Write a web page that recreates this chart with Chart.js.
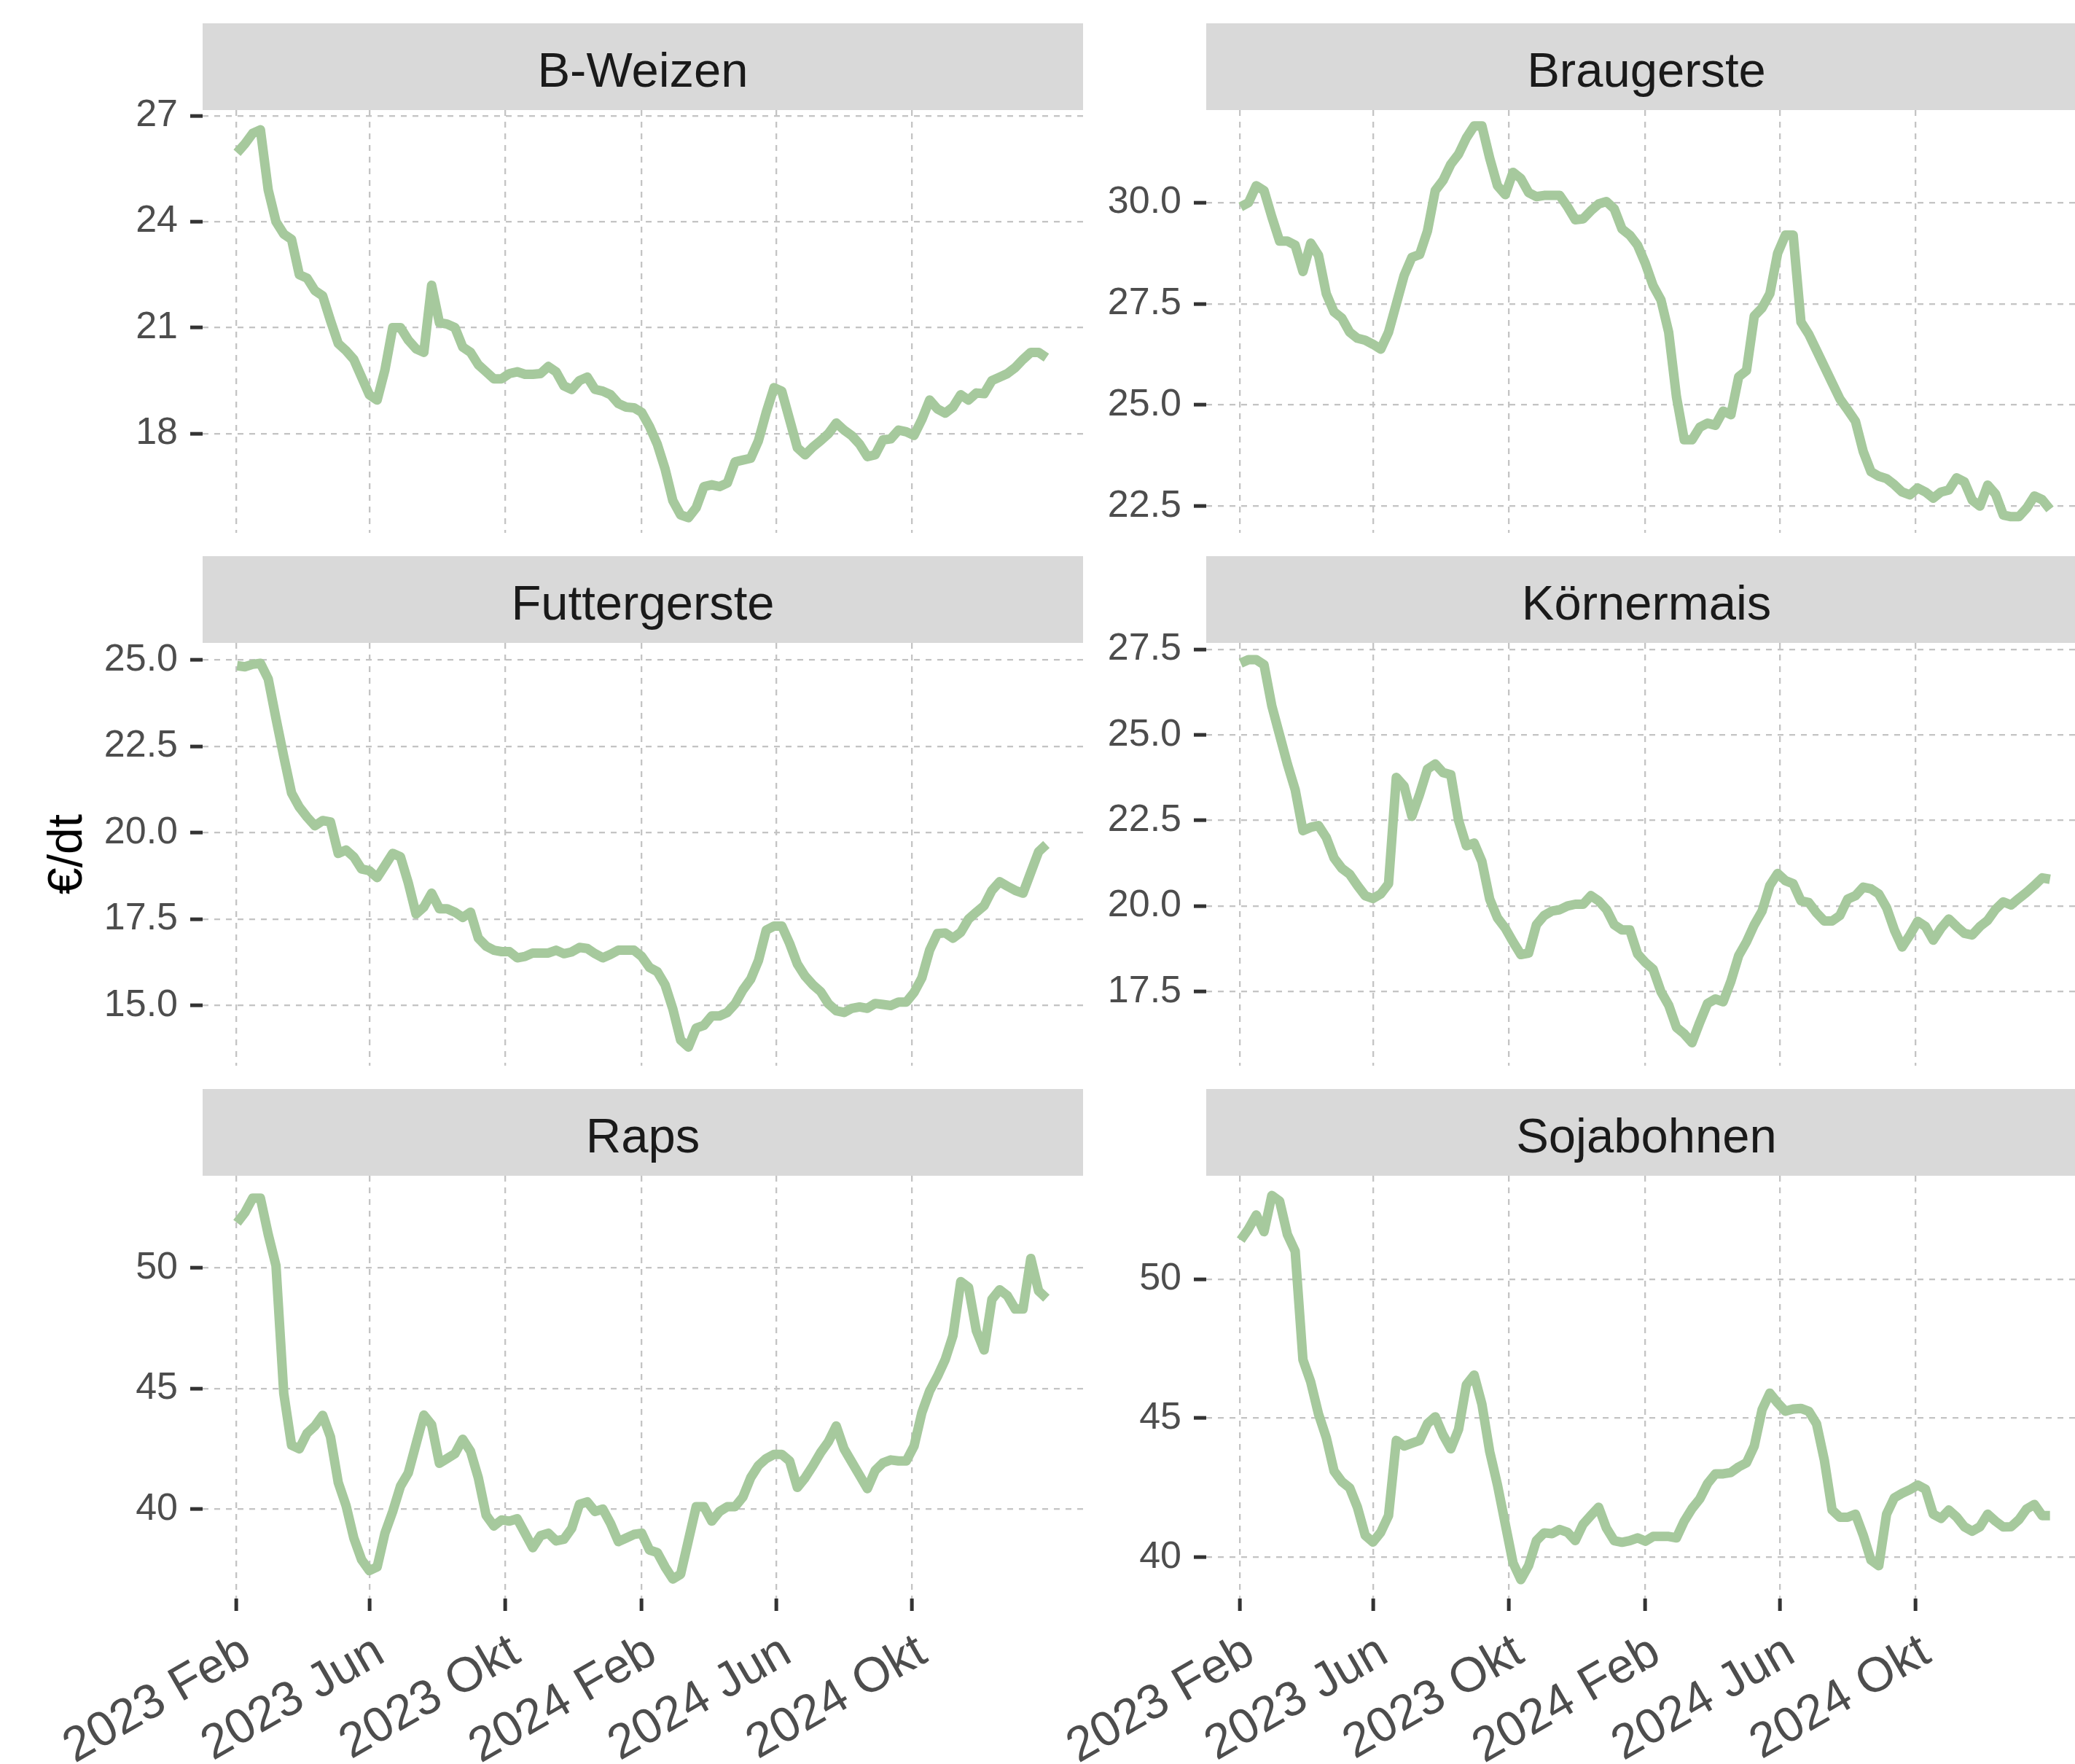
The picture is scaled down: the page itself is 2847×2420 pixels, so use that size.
<!DOCTYPE html>
<html lang="de">
<head>
<meta charset="utf-8">
<title>Erzeugerpreise Getreide und Ölsaaten</title>
<script src="https://cdn.jsdelivr.net/npm/chart.js@4.4.1/dist/chart.umd.min.js"></script>
<style>
    html, body { margin: 0; padding: 0; background: #ffffff; }
    body {
        position: relative;
        width: 2847px;
        height: 2420px;
        overflow: hidden;
        font-family: "Liberation Sans", Arial, sans-serif;
    }
    canvas.panel { position: absolute; }
    .strip {
        position: absolute;
        box-sizing: border-box;
        padding-top: 8px;
        display: flex;
        align-items: center;
        justify-content: center;
        background: #d9d9d9;
        color: #1a1a1a;
        font-size: 67px;
        white-space: nowrap;
    }
    #y-title {
        position: absolute;
        left: 89px;
        top: 1172px;
        transform: translate(-50%, -50%) rotate(-90deg);
        font-size: 66px;
        color: #000000;
        white-space: nowrap;
    }
</style>
</head>
<body>
<div id="figure"></div>
<div id="y-title">€/dt</div>
<script>
// Weekly prices in €/dt, first week 2023-02-02
const firstWeek = '2023-02-02';

const bWeizen = [
    25.95, 26.2, 26.5, 26.6, 24.9, 24.0, 23.65, 23.5, 22.5, 22.4,
    22.05, 21.9, 21.2, 20.55, 20.35, 20.1, 19.6, 19.1, 18.95, 19.8,
    21.0, 21.0, 20.65, 20.4, 20.3, 22.2, 21.14, 21.1, 21.0, 20.45,
    20.3, 19.95, 19.75, 19.55, 19.55, 19.7, 19.75, 19.68, 19.68, 19.7,
    19.9, 19.75, 19.35, 19.25, 19.5, 19.6, 19.25, 19.2, 19.1, 18.85,
    18.75, 18.73, 18.6, 18.2, 17.7, 17.0, 16.1, 15.7, 15.62, 15.9,
    16.5, 16.55, 16.5, 16.6, 17.2, 17.25, 17.3, 17.8, 18.6, 19.3,
    19.2, 18.4, 17.6, 17.4, 17.62, 17.8, 18.0, 18.3, 18.1, 17.94,
    17.7, 17.35, 17.4, 17.82, 17.85, 18.1, 18.05, 17.95, 18.4, 18.95,
    18.7, 18.58, 18.75, 19.1, 18.95, 19.15, 19.13, 19.5, 19.6, 19.7,
    19.87, 20.1, 20.3, 20.3, 20.15
];

const braugerste = [
    29.9, 30.0, 30.42, 30.3, 29.65, 29.05, 29.05, 28.95, 28.3, 29.0,
    28.7, 27.75, 27.3, 27.15, 26.8, 26.65, 26.6, 26.5, 26.38, 26.8,
    27.5, 28.2, 28.65, 28.72, 29.3, 30.3, 30.55, 30.95, 31.2, 31.6,
    31.9, 31.9, 31.1, 30.42, 30.2, 30.75, 30.6, 30.25, 30.15, 30.18,
    30.18, 30.18, 29.9, 29.58, 29.6, 29.8, 29.97, 30.03, 29.85, 29.35,
    29.2, 28.95, 28.5, 27.95, 27.6, 26.8, 25.2, 24.14, 24.14, 24.45,
    24.55, 24.5, 24.85, 24.76, 25.7, 25.85, 27.2, 27.4, 27.75, 28.75,
    29.2, 29.2, 27.05, 26.75, 26.35, 25.95, 25.55, 25.15, 24.88, 24.6,
    23.85, 23.35, 23.24, 23.18, 23.03, 22.85, 22.78, 22.95, 22.85, 22.7,
    22.85, 22.9, 23.2, 23.1, 22.65, 22.5, 23.02, 22.8, 22.28, 22.24,
    22.24, 22.45, 22.75, 22.66, 22.42
];

const futtergerste = [
    24.83, 24.8, 24.87, 24.9, 24.45, 23.3, 22.2, 21.15, 20.74, 20.45,
    20.2, 20.35, 20.31, 19.4, 19.5, 19.3, 18.95, 18.9, 18.7, 19.05,
    19.4, 19.3, 18.55, 17.65, 17.85, 18.25, 17.8, 17.8, 17.7, 17.55,
    17.7, 16.95, 16.72, 16.6, 16.56, 16.56, 16.38, 16.42, 16.52, 16.52,
    16.52, 16.6, 16.5, 16.55, 16.68, 16.65, 16.5, 16.38, 16.48, 16.6,
    16.6, 16.6, 16.42, 16.1, 15.98, 15.6, 14.9, 14.0, 13.8, 14.35,
    14.43, 14.7, 14.7, 14.8, 15.05, 15.45, 15.76, 16.3, 17.18, 17.3,
    17.3, 16.8, 16.2, 15.85, 15.6, 15.4, 15.05, 14.85, 14.8, 14.92,
    14.96, 14.92, 15.06, 15.03, 15.0, 15.1, 15.1, 15.38, 15.8, 16.6,
    17.08, 17.1, 16.95, 17.12, 17.5, 17.7, 17.89, 18.33, 18.58, 18.45,
    18.33, 18.25, 18.85, 19.45, 19.66
];

const koernermais = [
    27.1, 27.2, 27.2, 27.05, 25.85, 25.0, 24.15, 23.4, 22.2, 22.3,
    22.35, 22.0, 21.4, 21.1, 20.93, 20.6, 20.3, 20.22, 20.35, 20.65,
    23.76, 23.5, 22.62, 23.27, 24.0, 24.15, 23.9, 23.84, 22.5, 21.76,
    21.84, 21.3, 20.2, 19.65, 19.35, 18.95, 18.58, 18.62, 19.45, 19.72,
    19.85, 19.89, 20.0, 20.05, 20.05, 20.3, 20.15, 19.9, 19.45, 19.3,
    19.3, 18.6, 18.35, 18.15, 17.5, 17.1, 16.45, 16.26, 16.0, 16.6,
    17.15, 17.28, 17.2, 17.8, 18.55, 18.95, 19.45, 19.85, 20.6, 20.95,
    20.74, 20.65, 20.15, 20.1, 19.8, 19.56, 19.56, 19.72, 20.2, 20.3,
    20.55, 20.5, 20.35, 19.95, 19.3, 18.8, 19.15, 19.55, 19.4, 19.0,
    19.35, 19.62, 19.4, 19.2, 19.15, 19.4, 19.58, 19.9, 20.12, 20.03,
    20.22, 20.4, 20.6, 20.82, 20.78
];

const raps = [
    51.88, 52.3, 52.9, 52.9, 51.4, 50.1, 44.8, 42.65, 42.5, 43.15,
    43.45, 43.89, 43.0, 41.1, 40.15, 38.8, 37.9, 37.45, 37.6, 39.0,
    39.9, 40.95, 41.5, 42.7, 43.9, 43.5, 41.9, 42.1, 42.3, 42.9,
    42.4, 41.3, 39.75, 39.3, 39.55, 39.5, 39.6, 39.0, 38.4, 38.9,
    39.0, 38.68, 38.75, 39.2, 40.2, 40.3, 39.9, 40.0, 39.4, 38.65,
    38.8, 38.95, 39.0, 38.3, 38.2, 37.6, 37.1, 37.3, 38.7, 40.1,
    40.1, 39.5, 39.9, 40.1, 40.1, 40.5, 41.3, 41.81, 42.1, 42.27,
    42.27, 42.0, 40.9, 41.3, 41.8, 42.35, 42.8, 43.45, 42.5, 41.95,
    41.4, 40.85, 41.6, 41.92, 42.04, 42.0, 42.0, 42.62, 44.0, 44.9,
    45.5, 46.2, 47.2, 49.44, 49.2, 47.4, 46.6, 48.7, 49.1, 48.85,
    48.3, 48.3, 50.4, 49.05, 48.75
];

const sojabohnen = [
    51.4, 51.8, 52.3, 51.7, 53.0, 52.8, 51.6, 51.0, 47.1, 46.3,
    45.15, 44.3, 43.1, 42.72, 42.5, 41.8, 40.79, 40.55, 40.9, 41.5,
    44.2, 44.0, 44.1, 44.2, 44.8, 45.05, 44.4, 43.9, 44.6, 46.2,
    46.55, 45.5, 43.8, 42.6, 41.2, 39.8, 39.2, 39.7, 40.6, 40.88,
    40.85, 41.0, 40.9, 40.6, 41.19, 41.5, 41.8, 41.05, 40.6, 40.54,
    40.6, 40.7, 40.58, 40.75, 40.75, 40.75, 40.7, 41.3, 41.75, 42.1,
    42.65, 43.0, 43.0, 43.05, 43.25, 43.4, 44.0, 45.3, 45.9, 45.55,
    45.25, 45.33, 45.35, 45.25, 44.8, 43.5, 41.7, 41.44, 41.44, 41.55,
    40.8, 39.9, 39.7, 41.55, 42.14, 42.3, 42.43, 42.6, 42.45, 41.55,
    41.4, 41.7, 41.45, 41.1, 40.94, 41.1, 41.55, 41.3, 41.09, 41.1,
    41.35, 41.74, 41.9, 41.5, 41.5
];

// Shared date axis
const xTickDates = ['2023-02-01', '2023-06-01', '2023-10-01', '2024-02-01', '2024-06-01', '2024-10-01'];
const xTickLabels = ['2023 Feb', '2023 Jun', '2023 Okt', '2024 Feb', '2024 Jun', '2024 Okt'];
const xLimits = ['2023-01-02', '2025-03-04'];

// Free y scales per panel
const yTicksBWeizen = [18, 21, 24, 27];
const yTicksBraugerste = [22.5, 25, 27.5, 30];
const yTicksFuttergerste = [15, 17.5, 20, 22.5, 25];
const yTicksKoernermais = [17.5, 20, 22.5, 25, 27.5];
const yTicksRaps = [40, 45, 50];
const yTicksSoja = [40, 45, 50];

const yLimitsBWeizen = [15.19, 27.16];
const yLimitsBraugerste = [21.84, 32.29];
const yLimitsFuttergerste = [13.26, 25.49];
const yLimitsKoernermais = [15.33, 27.69];
const yLimitsRaps = [36.29, 53.83];
const yLimitsSoja = [38.52, 53.71];

// Layout of the facet grid (pixels)
const COLUMN_LEFT = [278, 1655];
const ROW_STRIP_TOP = [32, 763, 1494];
const PANEL_W = 1208;
const PANEL_H = 580;
const STRIP_H = 119;
const Y_AXIS_W = 260;
const EDGE_PAD = 45;
const X_AXIS_H = 227;

const LINE_COLOR = '#a6c99d';
const GRID_COLOR = '#c4c4c4';
const TICK_COLOR = '#333333';
const TEXT_COLOR = '#4d4d4d';
const FONT_FAMILY = '"Liberation Sans", Arial, sans-serif';

const EPOCH = Date.parse('2023-02-01T00:00:00Z');

/**
 * Convert an ISO date to days since 2023-02-01
 */
function toDay(iso) {
    return (Date.parse(iso + 'T00:00:00Z') - EPOCH) / 86400000;
}

const panels = [
    { title: 'B-Weizen', values: bWeizen, ticks: yTicksBWeizen, limits: yLimitsBWeizen, decimals: 0 },
    { title: 'Braugerste', values: braugerste, ticks: yTicksBraugerste, limits: yLimitsBraugerste, decimals: 1 },
    { title: 'Futtergerste', values: futtergerste, ticks: yTicksFuttergerste, limits: yLimitsFuttergerste, decimals: 1 },
    { title: 'Körnermais', values: koernermais, ticks: yTicksKoernermais, limits: yLimitsKoernermais, decimals: 1 },
    { title: 'Raps', values: raps, ticks: yTicksRaps, limits: yLimitsRaps, decimals: 0 },
    { title: 'Sojabohnen', values: sojabohnen, ticks: yTicksSoja, limits: yLimitsSoja, decimals: 0 }
];

/**
 * Draw one facet: grey strip on top, line chart below
 */
function createPanel(panel, index) {
    const figure = document.getElementById('figure');
    const col = index % 2;
    const row = Math.floor(index / 2);
    const isBottom = row === ROW_STRIP_TOP.length - 1;

    const panelLeft = COLUMN_LEFT[col];
    const panelTop = ROW_STRIP_TOP[row] + STRIP_H;

    // Canvas covers y labels on the left and x labels below (bottom row only)
    const canvas = document.createElement('canvas');
    canvas.className = 'panel';
    const width = Y_AXIS_W + PANEL_W;
    const height = EDGE_PAD + PANEL_H + (isBottom ? X_AXIS_H : EDGE_PAD);
    canvas.width = width;
    canvas.height = height;
    canvas.style.width = width + 'px';
    canvas.style.height = height + 'px';
    canvas.style.left = (panelLeft - Y_AXIS_W) + 'px';
    canvas.style.top = (panelTop - EDGE_PAD) + 'px';
    figure.appendChild(canvas);

    const start = toDay(firstWeek);
    const points = panel.values.map((v, i) => ({ x: start + 7 * i, y: v }));
    const xTicks = xTickDates.map(toDay);

    new Chart(canvas, {
        type: 'line',
        data: {
            datasets: [{
                data: points,
                borderColor: LINE_COLOR,
                borderWidth: 13,
                borderJoinStyle: 'round',
                borderCapStyle: 'butt',
                pointRadius: 0,
                tension: 0,
                fill: false
            }]
        },
        options: {
            responsive: false,
            animation: false,
            devicePixelRatio: 1,
            layout: {
                padding: { top: EDGE_PAD, bottom: isBottom ? 0 : EDGE_PAD, left: 0, right: 0 }
            },
            plugins: {
                legend: { display: false },
                tooltip: { enabled: false }
            },
            scales: {
                x: {
                    type: 'linear',
                    min: toDay(xLimits[0]),
                    max: toDay(xLimits[1]),
                    afterBuildTicks: scale => {
                        scale.ticks = xTicks.map(v => ({ value: v }));
                    },
                    afterFit: scale => {
                        scale.height = isBottom ? X_AXIS_H : 0;
                        scale.paddingLeft = 0;
                        scale.paddingRight = 0;
                    },
                    ticks: {
                        display: isBottom,
                        autoSkip: false,
                        minRotation: 30,
                        maxRotation: 30,
                        padding: 17,
                        labelOffset: 15,
                        color: TEXT_COLOR,
                        font: { family: FONT_FAMILY, size: 67 },
                        callback: (value, i) => xTickLabels[i]
                    },
                    grid: {
                        color: GRID_COLOR,
                        lineWidth: 2.3,
                        drawTicks: isBottom,
                        tickLength: 17,
                        tickWidth: 5,
                        tickColor: TICK_COLOR,
                        tickBorderDash: []
                    },
                    border: { display: false, dash: [8, 8] }
                },
                y: {
                    type: 'linear',
                    min: panel.limits[0],
                    max: panel.limits[1],
                    afterBuildTicks: scale => {
                        scale.ticks = panel.ticks.map(v => ({ value: v }));
                    },
                    afterFit: scale => {
                        scale.width = Y_AXIS_W;
                        scale.paddingTop = 0;
                        scale.paddingBottom = 0;
                    },
                    ticks: {
                        padding: 17,
                        color: TEXT_COLOR,
                        font: { family: FONT_FAMILY, size: 52 },
                        callback: value => Number(value).toFixed(panel.decimals)
                    },
                    grid: {
                        color: GRID_COLOR,
                        lineWidth: 2.3,
                        tickLength: 17,
                        tickWidth: 5,
                        tickColor: TICK_COLOR,
                        tickBorderDash: []
                    },
                    border: { display: false, dash: [8, 8] }
                }
            }
        }
    });

    // Facet strip
    const strip = document.createElement('div');
    strip.className = 'strip';
    strip.textContent = panel.title;
    strip.style.left = panelLeft + 'px';
    strip.style.top = ROW_STRIP_TOP[row] + 'px';
    strip.style.width = PANEL_W + 'px';
    strip.style.height = STRIP_H + 'px';
    figure.appendChild(strip);
}

Chart.defaults.font.family = FONT_FAMILY;
panels.forEach(createPanel);
</script>
</body>
</html>
